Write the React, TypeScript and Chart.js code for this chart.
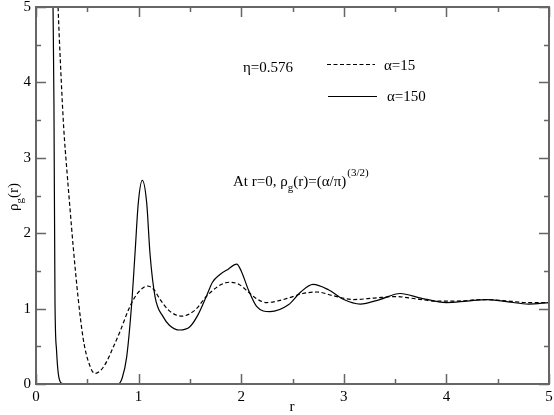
import React, { useEffect, useRef } from "react";
import { Chart, registerables } from "chart.js";

Chart.register(...registerables);

// alpha = 15 (dashed)
const rDashed = [0.2, 0.215, 0.24, 0.27, 0.3, 0.33, 0.364, 0.41, 0.46, 0.51, 0.575, 0.63, 0.69, 0.75, 0.82, 0.9, 0.95, 1.0, 1.085, 1.15, 1.21, 1.3, 1.42, 1.55, 1.66, 1.78, 1.89, 1.98, 2.07, 2.15, 2.25, 2.35, 2.46, 2.6, 2.74, 2.9, 3.09, 3.3, 3.5, 3.7, 3.9, 4.1, 4.35, 4.6, 4.8, 5.0];
const gDashed = [5.6, 5.0, 4.2, 3.4, 2.85, 2.35, 1.8, 1.15, 0.6, 0.3, 0.14, 0.18, 0.3, 0.48, 0.7, 0.98, 1.12, 1.22, 1.3, 1.25, 1.12, 0.97, 0.9, 0.98, 1.16, 1.3, 1.35, 1.32, 1.22, 1.13, 1.08, 1.1, 1.14, 1.2, 1.22, 1.17, 1.12, 1.14, 1.16, 1.13, 1.1, 1.1, 1.12, 1.1, 1.08, 1.08];

// alpha = 150 (solid)
const rSolid = [0.15, 0.166, 0.175, 0.185, 0.2, 0.217, 0.25, 0.3, 0.5, 0.8, 0.84, 0.884, 0.933, 0.965, 0.997, 1.036, 1.079, 1.111, 1.16, 1.24, 1.3, 1.4, 1.5, 1.58, 1.66, 1.72, 1.79, 1.87, 1.956, 2.0, 2.07, 2.15, 2.28, 2.46, 2.58, 2.7, 2.85, 3.0, 3.16, 3.35, 3.55, 3.75, 4.0, 4.2, 4.39, 4.6, 4.8, 5.0];
const gSolid = [7.0, 5.0, 3.7, 1.1, 0.45, 0.14, 0.01, 0, 0, 0, 0.08, 0.36, 1.07, 1.73, 2.4, 2.7, 2.4, 1.73, 1.16, 0.89, 0.78, 0.716, 0.76, 0.92, 1.16, 1.35, 1.45, 1.52, 1.59, 1.5, 1.25, 1.03, 0.96, 1.05, 1.22, 1.32, 1.25, 1.12, 1.06, 1.12, 1.2, 1.14, 1.08, 1.1, 1.12, 1.09, 1.06, 1.08];

const xMajor = [0, 1, 2, 3, 4, 5];
const xMinor = [0.5, 1.5, 2.5, 3.5, 4.5];
const yMajor = [0, 1, 2, 3, 4, 5];
const yMinor = [0.5, 1.5, 2.5, 3.5, 4.5];

const SERIF = "'Liberation Serif', 'Times New Roman', serif";

const framePlugin = {
  id: "framePlugin",
  afterDraw(chart: any) {
    const ctx = chart.ctx;
    const a = chart.chartArea;
    const xs = chart.scales.x;
    const ys = chart.scales.y;
    ctx.save();
    ctx.strokeStyle = "#666";
    ctx.lineWidth = 2;
    ctx.strokeRect(a.left, a.top, a.right - a.left, a.bottom - a.top);
    ctx.lineWidth = 1.5;
    const major = 10;
    const minor = 5;
    const tickX = (v: number, len: number) => {
      const p = Math.round(xs.getPixelForValue(v)) + 0.5;
      ctx.beginPath();
      ctx.moveTo(p, a.bottom);
      ctx.lineTo(p, a.bottom - len);
      ctx.moveTo(p, a.top);
      ctx.lineTo(p, a.top + len);
      ctx.stroke();
    };
    const tickY = (v: number, len: number) => {
      const p = Math.round(ys.getPixelForValue(v)) + 0.5;
      ctx.beginPath();
      ctx.moveTo(a.left, p);
      ctx.lineTo(a.left + len, p);
      ctx.moveTo(a.right, p);
      ctx.lineTo(a.right - len, p);
      ctx.stroke();
    };
    xMajor.forEach((v) => tickX(v, major));
    xMinor.forEach((v) => tickX(v, minor));
    yMajor.forEach((v) => tickY(v, major));
    yMinor.forEach((v) => tickY(v, minor));

    // annotations
    ctx.fillStyle = "#000";
    ctx.textBaseline = "alphabetic";
    ctx.textAlign = "left";
    ctx.font = `15px ${SERIF}`;
    ctx.fillText("\u03b7=0.576", 243, 72);
    ctx.fillText("\u03b1=15", 384, 70);
    ctx.fillText("\u03b1=150", 387, 101);

    // legend lines
    ctx.strokeStyle = "#000";
    ctx.lineWidth = 1.2;
    ctx.setLineDash([4, 2.5]);
    ctx.beginPath();
    ctx.moveTo(327, 64.5);
    ctx.lineTo(375, 64.5);
    ctx.stroke();
    ctx.setLineDash([]);
    ctx.beginPath();
    ctx.moveTo(328, 96.5);
    ctx.lineTo(377, 96.5);
    ctx.stroke();

    // At r=0 text
    let x = 233;
    const base = 186;
    ctx.font = `15px ${SERIF}`;
    const t1 = "At r=0, \u03c1";
    ctx.fillText(t1, x, base);
    x += ctx.measureText(t1).width;
    ctx.font = `11px ${SERIF}`;
    ctx.fillText("g", x, base + 5);
    x += ctx.measureText("g").width;
    ctx.font = `15px ${SERIF}`;
    const t2 = "(r)=(\u03b1/\u03c0)";
    ctx.fillText(t2, x, base);
    x += ctx.measureText(t2).width + 1;
    ctx.font = `11px ${SERIF}`;
    ctx.fillText("(3/2)", x, base - 10);

    // axis titles
    ctx.font = `15px ${SERIF}`;
    ctx.textAlign = "center";
    ctx.fillText("r", 292, 411);

    ctx.save();
    ctx.translate(18, 197);
    ctx.rotate(-Math.PI / 2);
    ctx.textAlign = "left";
    ctx.font = `15px ${SERIF}`;
    const rho = "\u03c1";
    const wRho = ctx.measureText(rho).width;
    ctx.font = `11px ${SERIF}`;
    const wG = ctx.measureText("g").width;
    ctx.font = `15px ${SERIF}`;
    const wR = ctx.measureText("(r)").width;
    let lx = -(wRho + wG + wR) / 2;
    ctx.fillText(rho, lx, 0);
    lx += wRho;
    ctx.font = `11px ${SERIF}`;
    ctx.fillText("g", lx, 5);
    lx += wG;
    ctx.font = `15px ${SERIF}`;
    ctx.fillText("(r)", lx, 0);
    ctx.restore();

    ctx.restore();
  },
};

export default function App() {
  const ref = useRef<HTMLCanvasElement | null>(null);

  useEffect(() => {
    document.body.style.margin = "0";
    const canvas = ref.current;
    if (!canvas) return;
    const chart = new Chart(canvas, {
      type: "scatter",
      data: {
        datasets: [
          {
            label: "\u03b1=15",
            data: rDashed.map((r, i) => ({ x: r, y: gDashed[i] })),
            showLine: true,
            borderColor: "#000",
            borderWidth: 1.2,
            borderDash: [4, 2.5],
            pointRadius: 0,
            cubicInterpolationMode: "monotone",
            fill: false,
          },
          {
            label: "\u03b1=150",
            data: rSolid.map((r, i) => ({ x: r, y: gSolid[i] })),
            showLine: true,
            borderColor: "#000",
            borderWidth: 1.2,
            pointRadius: 0,
            cubicInterpolationMode: "monotone",
            fill: false,
          },
        ],
      },
      options: {
        animation: false,
        responsive: false,
        maintainAspectRatio: false,
        layout: { padding: { top: 7, right: 5, left: 0, bottom: 0 } },
        plugins: { legend: { display: false }, tooltip: { enabled: false } },
        scales: {
          x: {
            type: "linear",
            min: 0,
            max: 5,
            ticks: {
              stepSize: 1,
              color: "#000",
              padding: 4,
              font: { family: SERIF, size: 15 },
            },
            grid: { display: false, drawTicks: false },
            border: { display: false },
            afterFit: (s: any) => {
              s.height = 31;
              s.paddingLeft = 0;
              s.paddingRight = 0;
            },
          },
          y: {
            type: "linear",
            min: 0,
            max: 5,
            ticks: {
              stepSize: 1,
              color: "#000",
              padding: 5,
              font: { family: SERIF, size: 15 },
            },
            grid: { display: false, drawTicks: false },
            border: { display: false },
            afterFit: (s: any) => {
              s.width = 36;
              s.paddingTop = 0;
              s.paddingBottom = 0;
            },
          },
        },
      } as any,
      plugins: [framePlugin],
    });
    return () => chart.destroy();
  }, []);

  return (
    <div style={{ position: "absolute", left: 0, top: 0, width: 554, height: 415, background: "#fff" }}>
      <canvas ref={ref} width={554} height={415} style={{ width: 554, height: 415 }} />
    </div>
  );
}
